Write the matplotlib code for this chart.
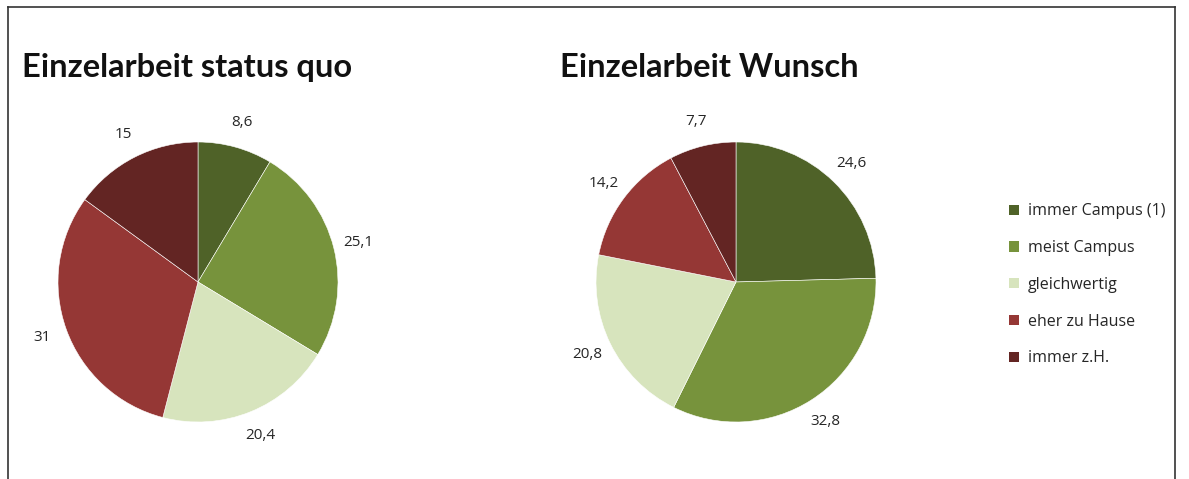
import matplotlib.pyplot as plt
import numpy as np
from matplotlib.patches import Patch
from matplotlib.lines import Line2D

plt.rcParams['font.family'] = ['Open Sans', 'DejaVu Sans']

# data
kategorien = ['immer Campus (1)', 'meist Campus', 'gleichwertig', 'eher zu Hause', 'immer z.H.']
status_quo = [8.6, 25.1, 20.4, 31, 15]
wunsch = [24.6, 32.8, 20.8, 14.2, 7.7]
farben = ['#4F6228', '#77933C', '#D7E4BD', '#953735', '#632523']

W, H = 1189, 479
fig = plt.figure(figsize=(W / 100, H / 100), dpi=100)


def fmt(v):
    return ('%g' % v).replace('.', ',')


def pie_axes(cx, cy, r):
    # cx, cy, r in pixels, y from top
    ax = fig.add_axes([(cx - r) / W, (H - cy - r) / H, 2 * r / W, 2 * r / H])
    ax.axis('off')
    return ax


def draw_pie(ax, werte):
    wedges, texte = ax.pie(werte, colors=farben, startangle=90, counterclock=False,
                           radius=1, labels=[fmt(v) for v in werte], labeldistance=1.18,
                           wedgeprops=dict(edgecolor='white', linewidth=0.4),
                           textprops=dict(fontsize=11, color='#262626', fontweight='medium'))
    for t in texte:
        t.set_ha('center')
        t.set_va('center')
    ax.set_xlim(-1, 1)
    ax.set_ylim(-1, 1)
    ax.set_aspect('equal')
    return wedges


ax1 = pie_axes(198, 282, 140)
draw_pie(ax1, status_quo)
ax2 = pie_axes(736, 282, 140)
draw_pie(ax2, wunsch)

fig.text(22 / W, 1 - 77 / H, 'Einzelarbeit status quo', fontsize=23.5, fontweight='bold',
         color='#111111', va='baseline', family=['Lato', 'DejaVu Sans'])
fig.text(560 / W, 1 - 77 / H, 'Einzelarbeit Wunsch', fontsize=23.5, fontweight='bold',
         color='#111111', va='baseline', family=['Lato', 'DejaVu Sans'])

handles = [Patch(facecolor=c, edgecolor='none') for c in farben]
fig.legend(handles, kategorien, loc='upper left', bbox_to_anchor=(995 / W, 1 - 189 / H),
           frameon=False, prop=dict(size=11.5, weight='medium'), handlelength=0.6,
           handleheight=0.6, handletextpad=0.55, labelspacing=1.3, labelcolor='#262626')

# border
fig.add_artist(Line2D([8 / W, 8 / W], [0, 1 - 7 / H], color='#333333', lw=1.2))
fig.add_artist(Line2D([8 / W, 1175 / W], [1 - 7 / H, 1 - 7 / H], color='#333333', lw=1.2))
fig.add_artist(Line2D([1175 / W, 1175 / W], [0, 1 - 7 / H], color='#333333', lw=1.2))

fig.savefig('out.png', dpi=100)
